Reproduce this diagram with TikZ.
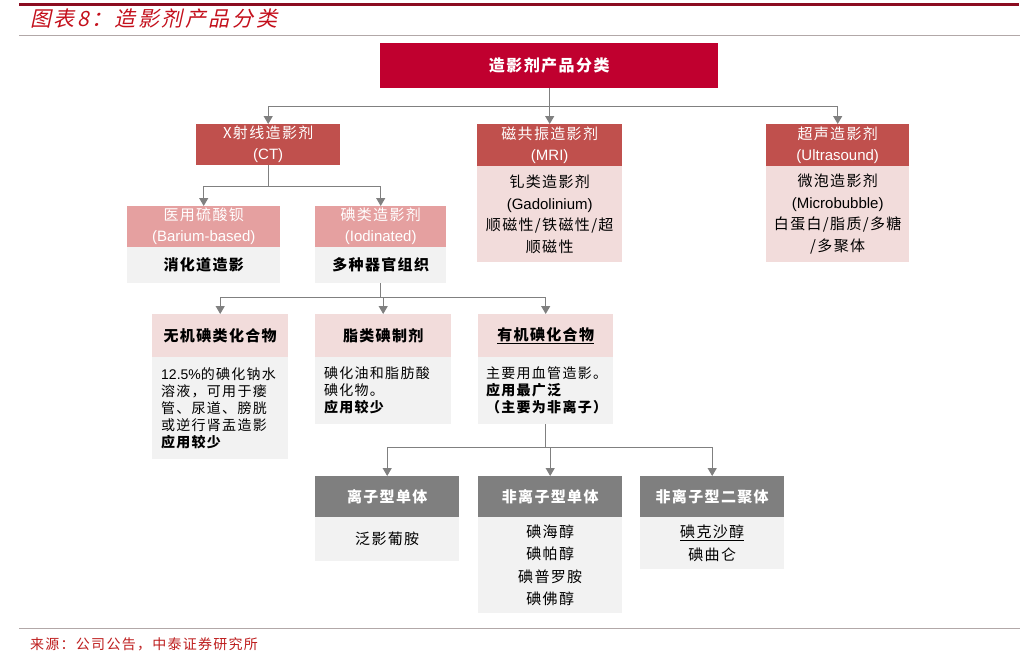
\documentclass[tikz,border=0pt]{standalone}
\usepackage{fontspec}
\setmainfont{Liberation Sans}
\newfontfamily\cjk{Noto Sans CJK SC}[LetterSpace=9]
\newfontfamily\titlef{Noto Sans CJK SC}[FakeSlant=0.22, LetterSpace=12]
\newcommand\zh[1]{{\cjk #1}}
\usetikzlibrary{arrows.meta}
\definecolor{crim}{RGB}{192,0,47}
\definecolor{ctred}{RGB}{192,80,77}
\definecolor{barpink}{RGB}{229,160,160}
\definecolor{pinkbg}{RGB}{242,220,219}
\definecolor{lgray}{RGB}{242,242,242}
\definecolor{dgray}{RGB}{127,127,127}
\definecolor{cgray}{RGB}{128,128,128}
\definecolor{titlered}{RGB}{196,16,28}
\definecolor{darkred}{RGB}{139,12,32}
\definecolor{rulegray}{RGB}{178,168,168}
\definecolor{footred}{RGB}{190,30,30}
\tikzset{
  box/.style={draw=none, inner sep=0pt, align=center, anchor=north west},
  fhead/.style={font=\fontsize{15}{21}\selectfont},
  fbody/.style={font=\fontsize{15}{21.5}\selectfont},
  fsmall/.style={font=\fontsize{14}{17}\selectfont},
  fbot/.style={font=\fontsize{15}{22.5}\selectfont},
  lbody/.style={box, fill=lgray, fsmall, align=left, inner xsep=11pt},
  conn/.style={draw=cgray, line width=1.2pt},
  arr/.style={conn, -{Triangle[width=9pt,length=8pt]}},
}
\begin{document}
\begin{tikzpicture}[x=1pt,y=-1pt]
\fill[white] (0,0) rectangle (1032,656);
\useasboundingbox (0,0) rectangle (1032,656);
% header and footer rules
\draw[line width=3pt, draw=darkred] (19,4) -- (1019,4);
\draw[line width=0.8pt, draw=rulegray] (19,35) -- (1020,35);
\draw[line width=0.8pt, draw=rulegray] (19,628) -- (1020,628);
\node[anchor=west, text=titlered, inner sep=0pt] (title) at (30,19)
  {\titlef\fontsize{21}{24}\selectfont 图表8：造影剂产品分类};
\node[anchor=west, text=footred, inner sep=0pt] (src) at (30,644)
  {\zh{\fontsize{14}{16}\selectfont 来源：公司公告，中泰证券研究所}};
% level 0
\node[box, fill=crim, text=white, minimum width=338pt, minimum height=45pt,
  font=\fontsize{16}{20}\selectfont] (top) at (380,43) {\zh{\bfseries 造影剂产品分类}};
% level 1
\node[box, fhead, fill=ctred, text=white, minimum width=144pt, minimum height=41pt] (cth) at (196,124)
  {\zh{X射线造影剂}\\(CT)};
\node[box, fhead, fill=ctred, text=white, minimum width=145pt, minimum height=42pt] (mrih) at (477,124)
  {\zh{磁共振造影剂}\\(MRI)};
\node[box, fbody, fill=pinkbg, minimum width=145pt, minimum height=96pt] (mrib) at (477,166)
  {\zh{钆类造影剂}\\(Gadolinium)\\\zh{顺磁性/铁磁性/超}\\\zh{顺磁性}};
\node[box, fhead, fill=ctred, text=white, minimum width=143pt, minimum height=42pt] (ush) at (766,124)
  {\zh{超声造影剂}\\(Ultrasound)};
\node[box, fbody, fill=pinkbg, minimum width=143pt, minimum height=96pt] (usb) at (766,166)
  {\zh{微泡造影剂}\\(Microbubble)\\\zh{白蛋白/脂质/多糖}\\\zh{/多聚体}};
% level 2
\node[box, fhead, fill=barpink, text=white, minimum width=153pt, minimum height=41pt] (barh) at (127,206)
  {\zh{医用硫酸钡}\\(Barium-based)};
\node[box, fhead, fill=lgray, minimum width=153pt, minimum height=36pt] (barb) at (127,247)
  {\zh{\bfseries 消化道造影}};
\node[box, fhead, fill=barpink, text=white, minimum width=131pt, minimum height=41pt] (iodh) at (315,206)
  {\zh{碘类造影剂}\\(Iodinated)};
\node[box, fhead, fill=lgray, minimum width=131pt, minimum height=36pt] (iodb) at (315,247)
  {\zh{\bfseries 多种器官组织}};
% level 3
\node[box, fhead, fill=pinkbg, minimum width=136pt, minimum height=43pt] (wjh) at (152,314)
  {\zh{\bfseries 无机碘类化合物}};
\node[lbody, text width=118pt, inner xsep=9pt, minimum height=102pt] (wjb) at (152,357)
  {12.5\%\zh{的碘化钠水}\\\zh{溶液，可用于瘘}\\\zh{管、尿道、膀胱}\\\zh{或逆行肾盂造影}\\\zh{\bfseries 应用较少}};
\node[box, fhead, fill=pinkbg, minimum width=136pt, minimum height=43pt] (zlh) at (315,314)
  {\zh{\bfseries 脂类碘制剂}};
\node[lbody, text width=118pt, inner xsep=9pt, minimum height=67pt] (zlb) at (315,357)
  {\zh{碘化油和脂肪酸}\\\zh{碘化物。}\\\zh{\bfseries 应用较少}};
\node[box, fhead, fill=pinkbg, minimum width=135pt, minimum height=43pt] (yjh) at (478,314)
  {\zh{\bfseries\underline{有机碘化合物}}};
\node[lbody, inner xsep=8pt, text width=119pt, minimum height=67pt] (yjb) at (478,357)
  {\zh{主要用血管造影。}\\\zh{\bfseries 应用最广泛}\\\zh{\bfseries （主要为非离子）}};
% level 4
\node[box, fhead, fill=dgray, text=white, minimum width=144pt, minimum height=41pt] (lzh) at (315,476)
  {\zh{\bfseries 离子型单体}};
\node[box, fbot, fill=lgray, minimum width=144pt, minimum height=44pt] (lzb) at (315,517)
  {\zh{泛影葡胺}};
\node[box, fhead, fill=dgray, text=white, minimum width=144pt, minimum height=41pt] (fzh) at (478,476)
  {\zh{\bfseries 非离子型单体}};
\node[box, fbot, fill=lgray, minimum width=144pt, minimum height=96pt] (fzb) at (478,517)
  {\zh{碘海醇}\\\zh{碘帕醇}\\\zh{碘普罗胺}\\\zh{碘佛醇}};
\node[box, fhead, fill=dgray, text=white, minimum width=144pt, minimum height=41pt] (ejh) at (640,476)
  {\zh{\bfseries 非离子型二聚体}};
\node[box, fbot, fill=lgray, minimum width=144pt, minimum height=52pt] (ejb) at (640,517)
  {\zh{\underline{碘克沙醇}}\\\zh{碘曲仑}};
% connectors
\draw[conn] (top.south) -- ++(0,18) coordinate (j1);
\draw[arr] (j1) -| (cth.north);
\draw[arr] (j1) -| (mrih.north);
\draw[arr] (j1) -| (ush.north);
\draw[conn] (cth.south) -- ++(0,21) coordinate (j2);
\draw[arr] (j2) -| (barh.north);
\draw[arr] (j2) -| (iodh.north);
\draw[conn] (iodb.south) -- ++(0,14) coordinate (j3);
\draw[arr] (j3) -| (wjh.north);
\draw[arr] (j3) -| (zlh.north);
\draw[arr] (j3) -| (yjh.north);
\draw[conn] (yjb.south) -- ++(0,23) coordinate (j4);
\draw[arr] (j4) -| (lzh.north);
\draw[arr] (j4) -| (fzh.north);
\draw[arr] (j4) -| (ejh.north);
\end{tikzpicture}
\end{document}
